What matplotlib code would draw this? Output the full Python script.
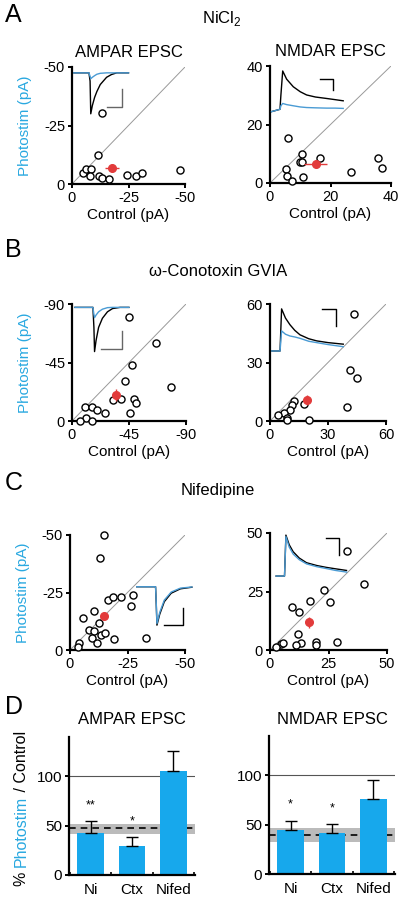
import numpy as np
import matplotlib.pyplot as plt

plt.rcParams['font.family'] = ['Liberation Sans', 'DejaVu Sans']
plt.rcParams['mathtext.fontset'] = 'custom'
plt.rcParams['mathtext.rm'] = 'Liberation Sans'

BLUE = '#29A8E0'
TRACE_BLUE = '#4A9BD4'
BAR_BLUE = '#17A8EC'
RED = '#E23B3B'

# ---------------- data ----------------
# A: NiCl2
a_ampa_ctrl = [13.1, 11.5, 5.0, 6.2, 8.3, 8.1, 12.1, 13.4, 16.2, 24.2, 28.3, 30.8, 47.8]
a_ampa_photo = [30.2, 12.2, 4.7, 6.4, 6.5, 3.5, 3.3, 2.5, 2.3, 4.0, 3.5, 4.7, 5.8]
a_ampa_mean = (17.8, 6.8)
a_ampa_sem = (3.0, 0.8)

a_nmda_ctrl = [6.1, 10.5, 9.9, 10.5, 5.3, 5.7, 7.3, 11.0, 16.5, 26.8, 35.8, 36.9]
a_nmda_photo = [15.5, 9.9, 7.3, 7.3, 4.7, 2.5, 0.7, 1.9, 8.4, 3.9, 8.4, 5.2]
a_nmda_mean = (15.1, 6.4)
a_nmda_sem = (3.7, 0.8)

# B: w-conotoxin
b_ampa_ctrl = [44.9, 66.5, 47.5, 41.5, 32.4, 38.9, 48.8, 50.9, 45.4, 78.0, 10.2, 15.4, 20.1, 25.8, 11.0, 15.4, 6.5]
b_ampa_photo = [80.0, 60.1, 43.3, 31.0, 16.4, 17.3, 17.3, 13.9, 6.2, 26.3, 10.8, 10.8, 8.3, 6.2, 2.6, 0.0, 0.0]
b_ampa_mean = (34.4, 19.9)
b_ampa_sem = (2.0, 4.5)

b_nmda_ctrl = [43.4, 41.4, 44.8, 39.7, 12.6, 11.6, 10.3, 7.2, 4.3, 9.0, 9.0, 17.8, 20.2]
b_nmda_photo = [55.0, 26.1, 21.8, 7.2, 10.1, 8.1, 5.8, 4.1, 2.9, 1.7, 0.3, 8.9, 0.7]
b_nmda_mean = (19.0, 10.7)
b_nmda_sem = (1.5, 2.7)

# C: nifedipine
c_ampa_ctrl = [14.8, 13.0, 16.7, 18.8, 22.2, 27.2, 26.5, 5.8, 10.6, 12.5, 8.4, 10.4, 9.4, 11.6, 13.5, 15.2, 19.3, 33.0, 4.1, 3.6]
c_ampa_photo = [50.0, 39.9, 21.7, 23.2, 23.2, 23.9, 19.3, 14.1, 17.1, 11.9, 8.7, 8.3, 5.1, 2.9, 6.5, 7.5, 4.8, 5.1, 2.9, 1.4]
c_ampa_mean = (14.8, 14.9)
c_ampa_sem = (1.0, 1.5)

c_nmda_ctrl = [33.0, 40.1, 23.2, 25.6, 17.3, 9.2, 12.4, 11.8, 13.1, 11.1, 19.5, 19.6, 28.7, 4.7, 5.7, 2.6]
c_nmda_photo = [42.5, 28.1, 25.6, 20.7, 20.9, 18.2, 16.4, 6.8, 3.1, 2.1, 3.3, 2.1, 3.3, 2.6, 2.8, 1.1]
c_nmda_mean = (16.6, 11.8)
c_nmda_sem = (1.2, 2.5)

# example traces (in each panel's axis units)
a_ampa_tr_x = [0.8, 7.5, 8.0, 8.3, 9.0, 10.0, 11.0, 12.5, 15.3, 17.5, 19.8, 25.0]
a_ampa_tr_ctrl = [47.5, 47.5, 44.0, 30.0, 33.5, 37.0, 39.5, 42.5, 45.6, 46.8, 47.5, 47.5]
a_ampa_tr_photo = [47.5, 47.5, 46.0, 45.0, 45.6, 46.3, 46.9, 47.3, 47.5, 47.5, 47.5, 47.5]

a_nmda_tr_x = [0.5, 3.3, 3.6, 4.2, 5.5, 7.7, 10.0, 12.1, 15.0, 18.7, 21.5, 24.2]
a_nmda_tr_ctrl = [24.4, 25.2, 30.0, 38.3, 35.5, 32.9, 31.2, 30.1, 29.4, 28.9, 28.5, 28.1]
a_nmda_tr_photo = [24.4, 25.2, 26.4, 27.2, 26.8, 26.4, 26.0, 25.8, 25.7, 25.6, 25.6, 25.5]

b_ampa_tr_x = [2.3, 16.5, 17.3, 17.8, 19.0, 21.0, 24.0, 28.0, 32.0, 38.0, 44.9]
b_ampa_tr_ctrl = [87.4, 87.4, 72.0, 53.4, 62.0, 72.0, 79.0, 84.0, 86.5, 87.4, 87.4]
b_ampa_tr_photo = [87.4, 87.4, 82.0, 79.5, 81.5, 84.0, 86.0, 87.2, 87.4, 87.4, 87.4]

b_nmda_tr_x = [0.9, 5.2, 5.6, 6.0, 8.0, 10.3, 12.8, 15.5, 20.0, 24.1, 30.0, 37.9]
b_nmda_tr_ctrl = [35.9, 35.9, 47.0, 57.5, 52.8, 49.4, 46.5, 44.2, 42.2, 41.1, 40.2, 39.4]
b_nmda_tr_photo = [35.9, 35.9, 41.0, 46.2, 44.5, 43.6, 43.1, 42.4, 40.9, 40.2, 39.2, 38.1]

c_ampa_tr_x = [29.0, 37.2, 37.5, 37.8, 39.0, 41.0, 44.0, 48.0, 53.0]
c_ampa_tr_ctrl = [27.5, 27.5, 20.0, 10.8, 15.5, 21.0, 24.7, 26.6, 27.3]
c_ampa_tr_photo = [27.5, 27.5, 20.5, 11.5, 16.3, 21.7, 25.2, 26.9, 27.4]

c_nmda_tr_x = [2.6, 6.2, 6.5, 6.8, 8.2, 9.9, 12.5, 15.6, 20.0, 24.1, 28.0, 32.7]
c_nmda_tr_ctrl = [31.6, 31.6, 40.0, 49.1, 45.0, 42.0, 39.3, 37.3, 36.1, 35.3, 34.7, 34.0]
c_nmda_tr_photo = [31.6, 31.6, 39.5, 48.5, 44.0, 41.0, 38.6, 36.8, 35.6, 34.8, 34.0, 33.3]

# D: summary
d_groups = ['Ni', 'Ctx', 'Nifed']
d_ampa_pct = [42.8, 29.6, 105.4]
d_ampa_err = [12.1, 9.1, 20.2]
d_ampa_stars = ['**', '*', '']
d_ampa_band = (42.1, 47.8, 52.2)
d_nmda_pct = [44.7, 41.4, 75.9]
d_nmda_err = [9.5, 9.1, 19.7]
d_nmda_stars = ['*', '*', '']
d_nmda_band = (32.9, 39.7, 46.4)

fig = plt.figure(figsize=(4, 9), dpi=100)


def px_axes(x0, x1, y0, y1):
    # pixel box (from top-left) -> figure axes
    return fig.add_axes([x0 / 400, 1 - y1 / 900, (x1 - x0) / 400, (y1 - y0) / 900])


def style_axes(ax):
    for s in ['top', 'right']:
        ax.spines[s].set_visible(False)
    for s in ['left', 'bottom']:
        ax.spines[s].set_linewidth(1.6)
    ax.tick_params(direction='out', length=3, width=1.4, labelsize=10.5, pad=2)


def scatter_panel(ax, lim, ticks, labels, ctrl, photo, mean, sem,
                  tr_x, tr_ctrl, tr_photo, bar, bar_color, ylabel=True):
    style_axes(ax)
    ax.set_xlim(0, lim)
    ax.set_ylim(0, lim)
    ax.plot([0, lim], [0, lim], color='#999999', lw=0.7, zorder=1)
    ax.scatter(ctrl, photo, s=26, facecolor='white', edgecolor='black',
               linewidth=1.0, zorder=3, clip_on=False)
    ax.errorbar(mean[0], mean[1], xerr=sem[0], yerr=sem[1], fmt='o',
                color=RED, ms=5.5, elinewidth=1.0, capsize=0, zorder=4)
    ax.plot(tr_x, tr_ctrl, color='black', lw=1.0, zorder=5, clip_on=False)
    ax.plot(tr_x, tr_photo, color=TRACE_BLUE, lw=1.0, zorder=5, clip_on=False)
    ax.plot(bar[0], bar[1], color=bar_color, lw=1.0, zorder=5, clip_on=False)
    ax.set_xticks(ticks)
    ax.set_xticklabels(labels)
    ax.set_yticks(ticks)
    ax.set_yticklabels(labels)
    ax.set_xlabel('Control (pA)', fontsize=11, labelpad=2)
    if ylabel:
        ax.set_ylabel('Photostim (pA)', fontsize=11, color=BLUE)
        ax.yaxis.set_label_coords(-0.35, 0.5)


# ---- A ----
ax = px_axes(72, 185, 67, 184)
scatter_panel(ax, 50, [0, 25, 50], ['0', '-25', '-50'], a_ampa_ctrl, a_ampa_photo,
              a_ampa_mean, a_ampa_sem, a_ampa_tr_x, a_ampa_tr_ctrl, a_ampa_tr_photo,
              ([15.6, 22, 22], [32.7, 32.7, 40.8]), '#666666')
ax.set_title('AMPAR EPSC', fontsize=12, pad=7)

ax = px_axes(270, 391, 66, 183)
scatter_panel(ax, 40, [0, 20, 40], ['0', '20', '40'], a_nmda_ctrl, a_nmda_photo,
              a_nmda_mean, a_nmda_sem, a_nmda_tr_x, a_nmda_tr_ctrl, a_nmda_tr_photo,
              ([16.5, 20.9, 20.9], [35.4, 35.4, 31.8]), 'black', ylabel=False)
ax.set_title('NMDAR EPSC', fontsize=12, pad=7)

# ---- B ----
ax = px_axes(72, 186, 304, 421)
scatter_panel(ax, 90, [0, 45, 90], ['0', '-45', '-90'], b_ampa_ctrl, b_ampa_photo,
              b_ampa_mean, b_ampa_sem, b_ampa_tr_x, b_ampa_tr_ctrl, b_ampa_tr_photo,
              ([23.2, 39.1, 39.1], [55.2, 55.2, 69.3]), '#666666')

ax = px_axes(270, 386, 304, 421)
scatter_panel(ax, 60, [0, 30, 60], ['0', '30', '60'], b_nmda_ctrl, b_nmda_photo,
              b_nmda_mean, b_nmda_sem, b_nmda_tr_x, b_nmda_tr_ctrl, b_nmda_tr_photo,
              ([27.1, 34.0, 34.0], [57.5, 57.5, 48.5]), 'black', ylabel=False)

# ---- C ----
ax = px_axes(70, 185, 535, 650)
scatter_panel(ax, 50, [0, 25, 50], ['0', '-25', '-50'], c_ampa_ctrl, c_ampa_photo,
              c_ampa_mean, c_ampa_sem, c_ampa_tr_x, c_ampa_tr_ctrl, c_ampa_tr_photo,
              ([40.9, 49.3, 49.3], [10.9, 10.9, 18.1]), 'black')

ax = px_axes(270, 387, 533, 650)
scatter_panel(ax, 50, [0, 25, 50], ['0', '25', '50'], c_nmda_ctrl, c_nmda_photo,
              c_nmda_mean, c_nmda_sem, c_nmda_tr_x, c_nmda_tr_ctrl, c_nmda_tr_photo,
              ([23.9, 29.5, 29.5], [47.7, 47.7, 40.6]), 'black', ylabel=False)


# ---- D ----
def bar_panel(ax, pct, err, stars, band, title):
    style_axes(ax)
    xs = np.arange(len(d_groups))
    ax.set_xlim(-0.52, 2.52)
    ax.set_ylim(0, 140)
    ax.axhspan(band[0], band[2], color='#BBBBBB', lw=0, zorder=1)
    ax.axhline(band[1], color='black', lw=1.2, ls=(0, (4, 3)), zorder=1)
    ax.axhline(100, color='#555555', lw=0.8, zorder=1)
    ax.bar(xs, pct, width=0.63, color=BAR_BLUE, zorder=2)
    ax.errorbar(xs, pct, yerr=[np.zeros(len(err)), err], fmt='none',
                ecolor='black', elinewidth=1.0, capsize=4, capthick=1.0, zorder=3)
    for x, st, p, e in zip(xs, stars, pct, err):
        if st:
            ax.text(x, p + e + 10, st, ha='center', va='bottom', fontsize=9)
    ax.set_xticks(xs)
    ax.set_xticklabels(d_groups, fontsize=11)
    ax.tick_params(axis='x', length=0, pad=6)
    ax.set_xticks([-0.5, 0.5, 1.5, 2.5], minor=True)
    ax.tick_params(axis='x', which='minor', direction='in', length=2, width=1.2)
    ax.set_yticks([0, 50, 100])
    ax.tick_params(axis='y', labelsize=11)
    ax.set_title(title, fontsize=12, pad=9)


ax = px_axes(69, 195, 737, 875)
bar_panel(ax, d_ampa_pct, d_ampa_err, d_ampa_stars, d_ampa_band, 'AMPAR EPSC')
t1 = fig.text(21 / 400, 1 - 886 / 900, '% ', rotation=90, ha='center', va='bottom', fontsize=11.5)
t2 = ax.annotate('Photostim', xy=(0.5, 1), xycoords=t1, rotation=90, ha='center',
                 va='bottom', fontsize=11.5, color=BLUE, annotation_clip=False)
t3 = ax.annotate(' / Control', xy=(0.5, 1), xycoords=t2, rotation=90, ha='center',
                 va='bottom', fontsize=11.5, annotation_clip=False)

ax = px_axes(269, 395, 736, 874)
bar_panel(ax, d_nmda_pct, d_nmda_err, d_nmda_stars, d_nmda_band, 'NMDAR EPSC')

# panel letters and condition titles
for lbl, y in [('A', 15), ('B', 250), ('C', 483), ('D', 707)]:
    fig.text(5 / 400, 1 - y / 900, lbl, fontsize=18, va='center', ha='left')
fig.text(222 / 400, 1 - 18 / 900, 'NiCl$_2$', fontsize=12, ha='center', va='center')
fig.text(218 / 400, 1 - 271 / 900, 'ω-Conotoxin GVIA', fontsize=12, ha='center', va='center')
fig.text(218 / 400, 1 - 491 / 900, 'Nifedipine', fontsize=12, ha='center', va='center')

fig.savefig('out.png', dpi=100)
